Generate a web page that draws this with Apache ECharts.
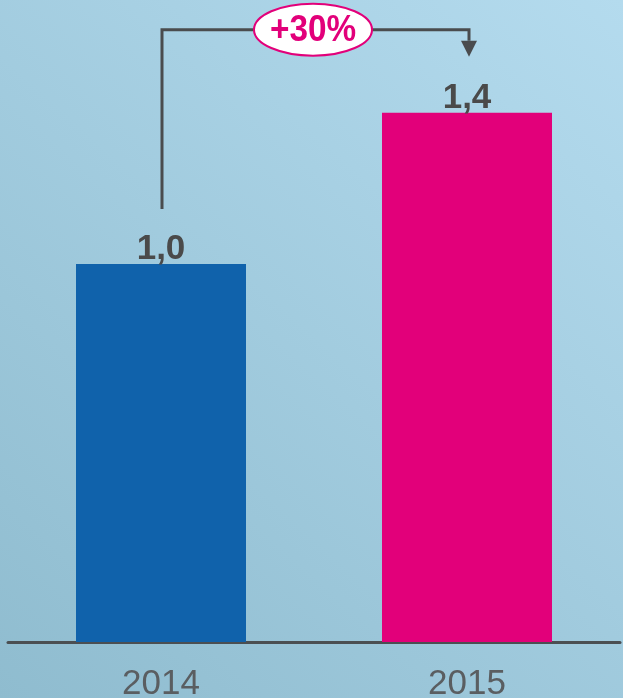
<!DOCTYPE html>
<html>
<head>
<meta charset="utf-8">
<script src="https://cdn.jsdelivr.net/npm/echarts@6/dist/echarts.min.js"></script>
<style>
html,body{margin:0;padding:0;}
#chart{width:623px;height:698px;}
</style>
</head>
<body>
<div id="chart"></div>
<script>
// Data
const years = ['2014', '2015'];
const values = [1.0, 1.4];
const barColors = ['#1062ab', '#e2007a'];
const changeLabel = '+30%';

const FONT = '"Liberation Sans Narrow", "Liberation Sans", Arial, sans-serif';

const chart = echarts.init(document.getElementById('chart'));

const option = {
  backgroundColor: new echarts.graphic.LinearGradient(1, 0, 0, 1, [
    { offset: 0, color: '#b4dbee' },
    { offset: 1, color: '#8fbccf' }
  ]),
  animation: false,
  grid: { left: 8, right: 3, top: 75, bottom: 56, containLabel: false, outerBoundsMode: 'none' },
  xAxis: {
    type: 'category',
    data: years,
    axisLine: { show: true, lineStyle: { color: '#4b4f52', width: 3 } },
    axisTick: { show: false },
    axisLabel: {
      color: '#5a5e61',
      fontFamily: FONT,
      fontSize: 35,
      margin: 25
    }
  },
  yAxis: {
    type: 'value',
    min: 0,
    max: 1.5,
    show: false,
    splitLine: { show: false }
  },
  series: [{
    type: 'bar',
    barWidth: 170,
    data: values.map((v, i) => ({ value: v, itemStyle: { color: barColors[i] } })),
    label: {
      show: true,
      position: 'top',
      distance: -3,
      color: '#4a4a4a',
      fontFamily: FONT,
      fontSize: 35,
      fontWeight: 'bold',
      formatter: p => p.value.toFixed(1).replace('.', ',')
    }
  }]
};
chart.setOption(option);

// Annotation bracket, positioned from the data via the chart's scales
const p0 = chart.convertToPixel({ seriesIndex: 0 }, [0, values[0]]);
const p1 = chart.convertToPixel({ seriesIndex: 0 }, [1, values[1]]);
const yTop = chart.convertToPixel({ seriesIndex: 0 }, [0, 1.62])[1];
const yStart = p0[1] - 55;
const yArrowTip = p1[1] - 56;
const lineColor = '#4a4c4e';
const midX = (p0[0] + p1[0]) / 2;

chart.setOption({
  graphic: [
    {
      type: 'polyline',
      shape: { points: [[p0[0] + 1, yStart], [p0[0] + 1, yTop], [p1[0] + 2, yTop], [p1[0] + 2, yArrowTip - 16]] },
      style: { stroke: lineColor, lineWidth: 3, fill: null },
      z: 10
    },
    {
      type: 'polygon',
      shape: { points: [[p1[0] - 6, yArrowTip - 16], [p1[0] + 10, yArrowTip - 16], [p1[0] + 2, yArrowTip]] },
      style: { fill: lineColor },
      z: 10
    },
    {
      type: 'ellipse',
      shape: { cx: midX - 1, cy: yTop, rx: 59, ry: 26 },
      style: { fill: '#ffffff', stroke: '#e2007a', lineWidth: 2 },
      z: 11
    },
    {
      type: 'text',
      x: midX - 1,
      y: yTop + 1,
      scaleX: 0.9,
      style: {
        text: changeLabel,
        fill: '#e2007a',
        font: 'bold 37px ' + FONT,
        align: 'center',
        verticalAlign: 'middle'
      },
      z: 12
    }
  ]
});
</script>
</body>
</html>
